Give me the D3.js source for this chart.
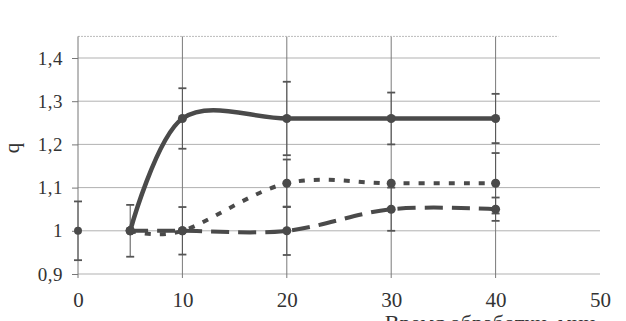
<!DOCTYPE html>
<html>
<head>
<meta charset="utf-8">
<script src="https://cdn.jsdelivr.net/npm/d3@7"></script>
<style>
  body { margin: 0; background: #fff; }
  text.lbl { font-family: "Liberation Serif", serif; fill: #333; }
</style>
</head>
<body>
<svg id="chart" width="626" height="321"></svg>
<script>
// data
const times = [5, 10, 20, 30, 40];
const qSolid = [1.0, 1.26, 1.26, 1.26, 1.26];
const errSolid = [0.06, 0.07, 0.085, 0.06, 0.057];
const qDotted = [1.0, 1.0, 1.11, 1.11, 1.11];
const errDotted = [0, 0, 0.055, 0, 0.07];
const qDashed = [1.0, 1.0, 1.0, 1.05, 1.05];
const errDashed = [0, 0.055, 0.056, 0.05, 0.027];
const controlTime = [0];
const controlQ = [1.0];
const controlErr = [0.068];

const xTicks = [0, 10, 20, 30, 40, 50];
const yTicks = [0.9, 1.0, 1.1, 1.2, 1.3, 1.4];
const yTickLabels = ["0,9", "1", "1,1", "1,2", "1,3", "1,4"];
const xTitle = "Время обработки, мин";
const yTitle = "q";

const svg = d3.select("#chart");

let x = d3.scaleLinear().domain([0, 50]).range([78, 600]);
let y = d3.scaleLinear().domain([0.9, 1.4]).range([274, 58]);

// grid
svg.append("g")
  .selectAll("line")
  .data(yTicks)
  .join("line")
  .attr("x1", x(0)).attr("x2", x(50))
  .attr("y1", d => y(d)).attr("y2", d => y(d))
  .attr("stroke", "#a8a8a8")
  .attr("stroke-width", 0.9);

svg.append("g")
  .selectAll("line")
  .data(xTicks.filter(d => d > 0 && d < 50))
  .join("line")
  .attr("x1", d => x(d)).attr("x2", d => x(d))
  .attr("y1", y(1.45)).attr("y2", y(0.9) + 4)
  .attr("stroke", "#7a7a7a")
  .attr("stroke-width", 1);

// faint top border
svg.append("line")
  .attr("x1", x(0)).attr("x2", x(46))
  .attr("y1", y(1.45)).attr("y2", y(1.45))
  .attr("stroke", "#bbb")
  .attr("stroke-dasharray", "2,1");

// axes
let yAxis = d3.axisLeft(y)
  .tickValues(yTicks)
  .tickFormat((d, i) => yTickLabels[i])
  .tickSize(6)
  .tickPadding(9);
let yAxisGroup = svg.append("g")
  .attr("transform", "translate(" + x(0) + ",0)")
  .call(yAxis);
yAxisGroup.select(".domain").attr("d", "M0," + y(1.45) + "V" + (y(0.9) + 4));
yAxisGroup.selectAll(".tick text")
  .attr("class", "lbl")
  .attr("font-size", 19)
  .attr("letter-spacing", 0.5);

let xAxis = d3.axisBottom(x)
  .tickValues(xTicks)
  .tickSize(0)
  .tickPadding(18);
let xAxisGroup = svg.append("g")
  .attr("transform", "translate(0," + y(0.9) + ")")
  .call(xAxis);
xAxisGroup.select(".domain").remove();
xAxisGroup.selectAll(".tick text")
  .attr("class", "lbl")
  .attr("font-size", 21);

svg.selectAll(".tick line").attr("stroke", "#777");
svg.selectAll(".domain").attr("stroke", "#777");

// titles (x title is cut by the bottom edge, as in the scan)
svg.append("text")
  .attr("class", "lbl")
  .attr("x", 490)
  .attr("y", 330)
  .attr("text-anchor", "middle")
  .attr("font-size", 22)
  .text(xTitle);

svg.append("text")
  .attr("class", "lbl")
  .attr("transform", "translate(19,148) rotate(-90)")
  .attr("text-anchor", "middle")
  .attr("font-size", 21)
  .text(yTitle);

// series
const series = [
  { q: qSolid, err: errSolid, dash: null, width: 4.5 },
  { q: qDotted, err: errDotted, dash: "6,9", width: 4 },
  { q: qDashed, err: errDashed, dash: "18,9", width: 4 }
];

const line = d3.line()
  .x(d => x(d[0]))
  .y(d => y(d[1]))
  .curve(d3.curveCardinal.tension(0));

const ink = "#4a4a4a";

// error bars
function drawErrors(ts, qs, es) {
  const pts = ts.map((t, i) => ({ t: t, q: qs[i], e: es[i] })).filter(d => d.e > 0);
  const g = svg.append("g").attr("stroke", "#555");
  g.selectAll(".ev").data(pts).join("line")
    .attr("class", "ev")
    .attr("x1", d => x(d.t)).attr("x2", d => x(d.t))
    .attr("y1", d => y(d.q - d.e)).attr("y2", d => y(d.q + d.e))
    .attr("stroke-width", 1);
  g.selectAll(".cap").data(pts.flatMap(d => [
      { t: d.t, v: d.q - d.e }, { t: d.t, v: d.q + d.e }]))
    .join("line")
    .attr("class", "cap")
    .attr("x1", d => x(d.t) - 4).attr("x2", d => x(d.t) + 4)
    .attr("y1", d => y(d.v)).attr("y2", d => y(d.v))
    .attr("stroke-width", 1.8);
}

series.forEach(s => drawErrors(times, s.q, s.err));
drawErrors(controlTime, controlQ, controlErr);

series.forEach(s => {
  svg.append("path")
    .datum(times.map((t, i) => [t, s.q[i]]))
    .attr("d", line)
    .attr("fill", "none")
    .attr("stroke", ink)
    .attr("stroke-width", s.width)
    .attr("stroke-dasharray", s.dash);

  svg.append("g")
    .selectAll("circle")
    .data(times.map((t, i) => [t, s.q[i]]))
    .join("circle")
    .attr("cx", d => x(d[0]))
    .attr("cy", d => y(d[1]))
    .attr("r", 4.5)
    .attr("fill", ink);
});

svg.append("g")
  .selectAll("circle")
  .data(controlTime.map((t, i) => [t, controlQ[i]]))
  .join("circle")
  .attr("cx", d => x(d[0]))
  .attr("cy", d => y(d[1]))
  .attr("r", 4)
  .attr("fill", ink);
</script>
</body>
</html>
